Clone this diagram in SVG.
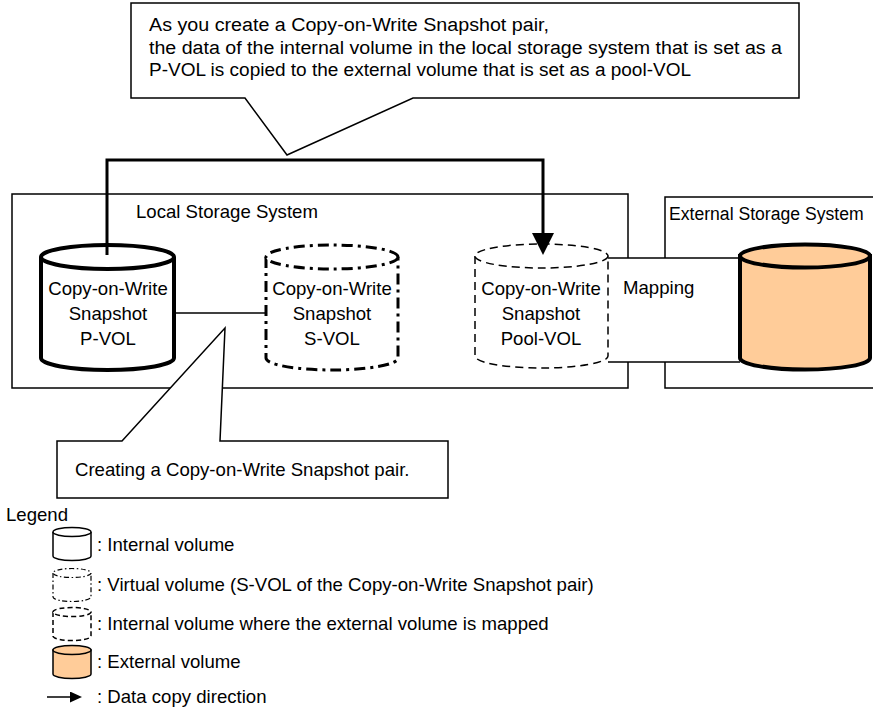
<svg xmlns="http://www.w3.org/2000/svg" width="873" height="712" viewBox="0 0 873 712">
  <style>
    text { font-family: "Liberation Sans", Arial, sans-serif; font-size: 18.6px; fill: #000; }
    .callout-text { font-size: 18px; }
    .box { fill: #fff; stroke: #000; stroke-width: 1.5; }
    .frame { fill: none; stroke: #000; stroke-width: 1.5; }
    .vol-internal { fill: #fff; stroke: #000; stroke-width: 4; }
    .vol-virtual { fill: #fff; stroke: #000; stroke-width: 3; stroke-dasharray: 11 5 3 5; }
    .vol-mapped { fill: #fff; stroke: #000; stroke-width: 1.5; stroke-dasharray: 8 5; }
    .vol-external { fill: #FFCC99; stroke: #000; stroke-width: 4; }
    .copy { fill: none; stroke: #000; stroke-width: 3; }
    .link { fill: none; stroke: #000; stroke-width: 1.5; }
    .lg-internal { fill: #fff; stroke: #000; stroke-width: 1.5; }
    .lg-virtual { fill: #fff; stroke: #000; stroke-width: 1.2; stroke-dasharray: 5 2.5 1.5 2.5; }
    .lg-mapped { fill: #fff; stroke: #000; stroke-width: 1.5; stroke-dasharray: 5 3; }
    .lg-external { fill: #FFCC99; stroke: #000; stroke-width: 1.5; }
  </style>
  <defs>
    <marker id="arrow-big" markerUnits="userSpaceOnUse" viewBox="0 0 22 22" markerWidth="22" markerHeight="22" refX="7" refY="11" orient="auto">
      <path d="M0,0 L22,11 L0,22 Z" fill="#000"/>
    </marker>
    <marker id="arrow-small" markerUnits="userSpaceOnUse" viewBox="0 0 12 11" markerWidth="12" markerHeight="11" refX="2" refY="5.5" orient="auto">
      <path d="M0,0 L12,5.5 L0,11 Z" fill="#000"/>
    </marker>
  </defs>

  <!-- storage system frames -->
  <g id="local-storage">
    <rect class="frame" x="12" y="194" width="616" height="194"/>
    <text x="136" y="218">Local Storage System</text>
  </g>
  <g id="external-storage">
    <rect class="frame" x="665" y="197" width="260" height="191"/>
    <text x="669" y="220" style="font-size:17.6px">External Storage System</text>
  </g>

  <!-- mapping band between pool-VOL and external volume -->
  <g id="mapping">
    <rect x="608" y="258" width="132" height="104" fill="#fff"/>
    <path class="link" d="M608,258 L740,258 M608,362 L740,362"/>
    <text x="623" y="294">Mapping</text>
  </g>

  <!-- volumes -->
  <g id="pvol">
    <path class="vol-internal" d="M41,257 L41,358 A66.5,12 0 0 0 174,358 L174,257"/>
    <ellipse class="vol-internal" cx="107.5" cy="257" rx="66.5" ry="12"/>
    <text x="108" y="295" text-anchor="middle">Copy-on-Write</text>
    <text x="108" y="320" text-anchor="middle">Snapshot</text>
    <text x="108" y="345" text-anchor="middle">P-VOL</text>
  </g>
  <g id="svol">
    <path class="vol-virtual" d="M266,257 L266,358 A66,12 0 0 0 398,358 L398,257"/>
    <ellipse class="vol-virtual" cx="332" cy="257" rx="66" ry="12"/>
    <text x="332" y="295" text-anchor="middle">Copy-on-Write</text>
    <text x="332" y="320" text-anchor="middle">Snapshot</text>
    <text x="332" y="345" text-anchor="middle">S-VOL</text>
  </g>
  <g id="poolvol">
    <path class="vol-mapped" d="M475,256 L475,356 A66.5,12 0 0 0 608,356 L608,256"/>
    <ellipse class="vol-mapped" cx="541.5" cy="256" rx="66.5" ry="12"/>
    <text x="541" y="295" text-anchor="middle">Copy-on-Write</text>
    <text x="541" y="320" text-anchor="middle">Snapshot</text>
    <text x="541" y="345" text-anchor="middle">Pool-VOL</text>
  </g>
  <g id="external-volume">
    <path class="vol-external" d="M740,256 L740,358 A65,11.5 0 0 0 870,358 L870,256 Z"/>
    <ellipse class="vol-external" cx="805" cy="256" rx="65" ry="11.5"/>
  </g>

  <!-- connectors -->
  <g id="connectors">
    <path class="copy" d="M107,255 L107,160 L543,160 L543,240" marker-end="url(#arrow-big)"/>
    <line class="link" x1="174" y1="313" x2="266" y2="313"/>
  </g>

  <!-- callouts -->
  <g id="callout-copy">
    <path class="box" d="M131,3 L799,3 L799,98 L413,98 L287,155 L245,98 L131,98 Z"/>
    <text class="callout-text" x="149" y="31" textLength="400" lengthAdjust="spacingAndGlyphs">As you create a Copy-on-Write Snapshot pair,</text>
    <text class="callout-text" x="149" y="53.5" textLength="633" lengthAdjust="spacingAndGlyphs">the data of the internal volume in the local storage system that is set as a</text>
    <text class="callout-text" x="149" y="76" textLength="542" lengthAdjust="spacingAndGlyphs">P-VOL is copied to the external volume that is set as a pool-VOL</text>
  </g>
  <g id="callout-pair">
    <path class="box" d="M57,441 L122,441 L225,328 L220,441 L448,441 L448,498 L57,498 Z"/>
    <text x="75" y="476">Creating a Copy-on-Write Snapshot pair.</text>
  </g>

  <!-- legend -->
  <g id="legend">
    <text x="6" y="521">Legend</text>
    <g id="legend-internal">
      <path class="lg-internal" d="M53,532 L53,556 A19,4.5 0 0 0 91,556 L91,532"/>
      <ellipse class="lg-internal" cx="72" cy="532" rx="19" ry="4.5"/>
      <text x="97" y="551">: Internal volume</text>
    </g>
    <g id="legend-virtual">
      <path class="lg-virtual" d="M53,573 L53,597 A19,4.5 0 0 0 91,597 L91,573"/>
      <ellipse class="lg-virtual" cx="72" cy="573" rx="19" ry="4.5"/>
      <text x="97" y="591">: Virtual volume (S-VOL of the Copy-on-Write Snapshot pair)</text>
    </g>
    <g id="legend-mapped">
      <path class="lg-mapped" d="M53,612 L53,636 A19,4.5 0 0 0 91,636 L91,612"/>
      <ellipse class="lg-mapped" cx="72" cy="612" rx="19" ry="4.5"/>
      <text x="97" y="630">: Internal volume where the external volume is mapped</text>
    </g>
    <g id="legend-external">
      <path class="lg-external" d="M53,650 L53,674 A19,4.5 0 0 0 91,674 L91,650 Z"/>
      <ellipse class="lg-external" cx="72" cy="650" rx="19" ry="4.5"/>
      <text x="97" y="668">: External volume</text>
    </g>
    <g id="legend-copy">
      <line class="link" x1="47" y1="697" x2="72" y2="697" marker-end="url(#arrow-small)"/>
      <text x="97" y="703">: Data copy direction</text>
    </g>
  </g>
</svg>
